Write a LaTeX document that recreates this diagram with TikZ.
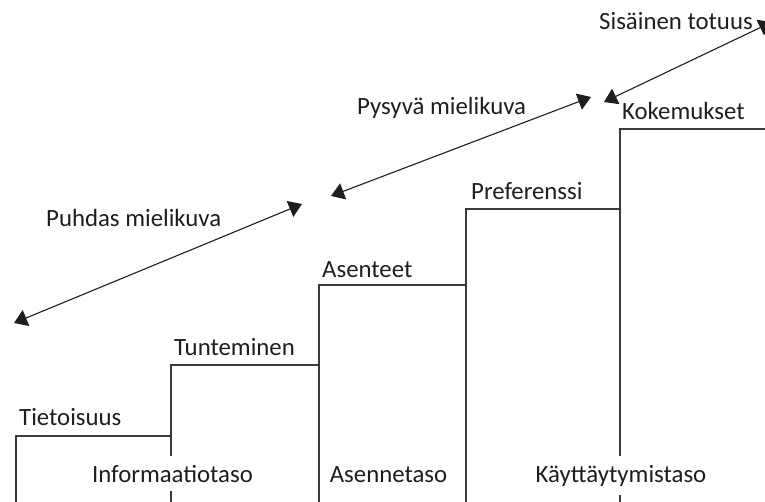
\documentclass[tikz,border=0pt]{standalone}
\usepackage{fontspec}
\setmainfont{Carlito}
\usetikzlibrary{arrows.meta}
\definecolor{ink}{HTML}{1E1E1E}
\definecolor{rule}{HTML}{3A3A3A}
\begin{document}
\begin{tikzpicture}[x=1pt,y=-1pt,
  stairline/.style={draw=rule, line width=1.5pt},
  span/.style={draw=ink, line width=1.1pt,
    {Triangle[length=13pt,width=17pt]}-{Triangle[length=13pt,width=17pt]}},
  lbl/.style={font=\fontsize{24.8}{28}\selectfont, text=ink, inner sep=0pt, anchor=base west},
  levellbl/.style={font=\fontsize{24.8}{28}\selectfont, text=ink, fill=white,
    inner xsep=1pt, inner ysep=9pt, anchor=base},
]
\useasboundingbox (0,0) rectangle (765,502);
\clip (0,0) rectangle (765,502);

% staircase: each step rises from the baseline and runs to the next riser
\draw[stairline] (16,505) |- (171,436);
\draw[stairline] (171,505) |- (319,365);
\draw[stairline] (319,505) |- (466,285);
\draw[stairline] (466,505) |- (620,209);
\draw[stairline] (620,505) |- (770,129);

% step names
\node[lbl] (tietoisuus) at (19,425) {Tietoisuus};
\node[lbl] (tunteminen) at (174,355) {Tunteminen};
\node[lbl] (asenteet) at (322,278) {Asenteet};
\node[lbl] (preferenssi) at (471,200) {Preferenssi};
\node[lbl] (kokemukset) at (622,120) {Kokemukset};

% levels along the bottom
\node[levellbl] (info) at (172.5,482) {Informaatiotaso};
\node[levellbl] (asenne) at (388.5,482) {Asennetaso};
\node[levellbl] (kaytto) at (621,482) {Käyttäytymistaso};

% image spans
\coordinate (p1) at (14,323);
\coordinate (p2) at (302,204);
\coordinate (q1) at (331,196);
\coordinate (q2) at (591,97);
\coordinate (r1) at (604,102);
\coordinate (r2) at (772,22);
\draw[span] (p1) -- (p2);
\draw[span] (q1) -- (q2);
\draw[span] (r1) -- (r2);

\node[lbl] (puhdas) at (46,227) {Puhdas mielikuva};
\node[lbl] (pysyva) at (357,115) {Pysyvä mielikuva};
\node[lbl] (sisainen) at (599,30) {Sisäinen totuus};
\end{tikzpicture}
\end{document}
